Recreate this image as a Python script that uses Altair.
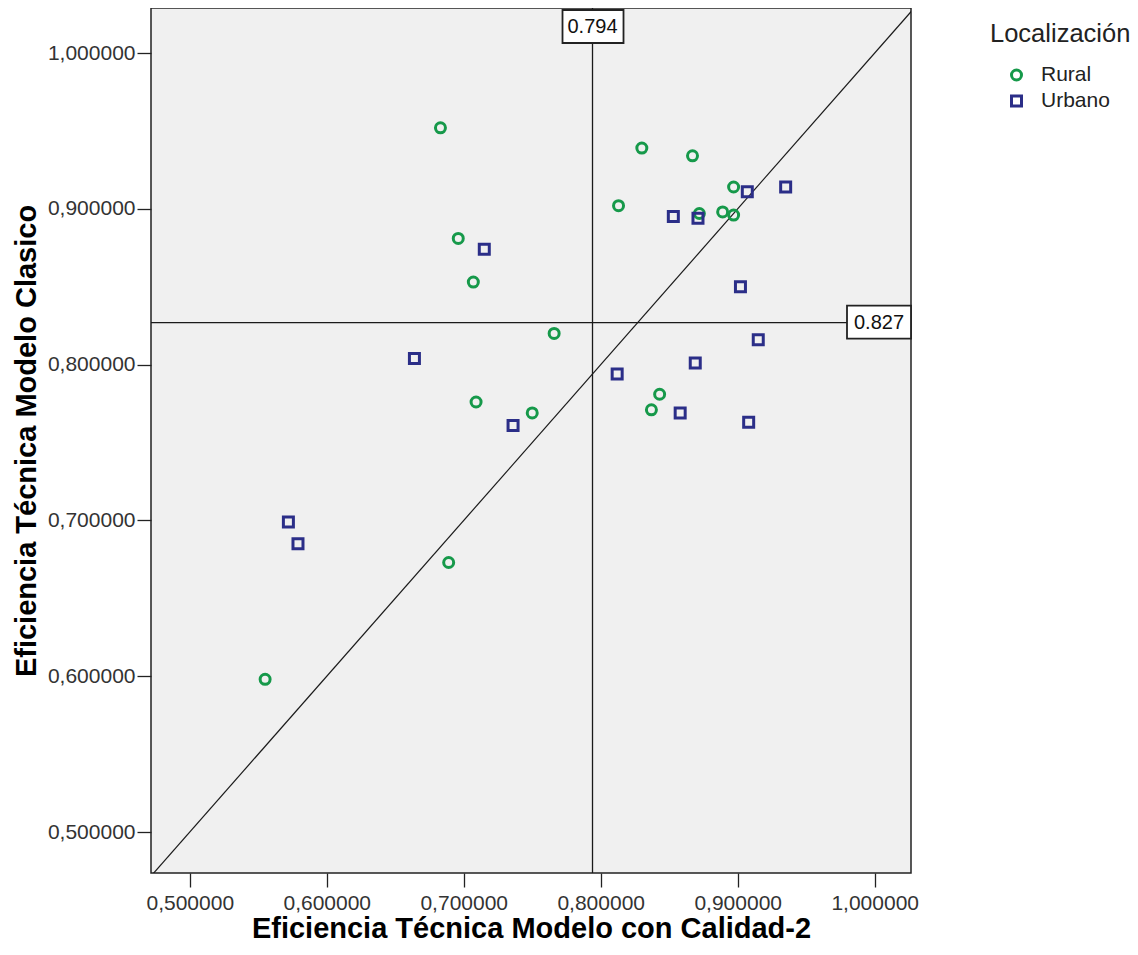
import altair as alt
import pandas as pd

rural_x = [0.683, 0.830, 0.867, 0.897, 0.813, 0.872, 0.889, 0.897, 0.696, 0.707,
           0.766, 0.843, 0.837, 0.709, 0.750, 0.689, 0.555]
rural_y = [0.952, 0.939, 0.934, 0.914, 0.902, 0.897, 0.898, 0.896, 0.881, 0.853,
           0.820, 0.781, 0.771, 0.776, 0.769, 0.673, 0.598]
urban_x = [0.907, 0.935, 0.853, 0.871, 0.715, 0.902, 0.915, 0.869, 0.812, 0.664,
           0.858, 0.908, 0.736, 0.572, 0.579]
urban_y = [0.911, 0.914, 0.895, 0.894, 0.874, 0.850, 0.816, 0.801, 0.794, 0.804,
           0.769, 0.763, 0.761, 0.699, 0.685]

x_ref = 0.794
y_ref = 0.827
x_dom = [0.4717, 1.0265]
y_dom = [0.4737, 1.0289]
ticks = [0.5, 0.6, 0.7, 0.8, 0.9, 1.0]

pts = pd.DataFrame({
    "x": rural_x + urban_x,
    "y": rural_y + urban_y,
    "Localización": ["Rural"] * len(rural_x) + ["Urbano"] * len(urban_x),
})

font = "Liberation Sans"
xs = alt.Scale(domain=x_dom, nice=False, zero=False)
ys = alt.Scale(domain=y_dom, nice=False, zero=False)

lbl = "replace(format(datum.value, '.6f'), '.', ',')"
xax = alt.Axis(values=ticks, grid=False, title="Eficiencia Técnica Modelo con Calidad-2", labelExpr=lbl)
yax = alt.Axis(values=ticks, grid=False, title="Eficiencia Técnica Modelo Clasico", labelExpr=lbl)

points = alt.Chart(pts).mark_point(filled=False, strokeWidth=3, size=100, opacity=1).encode(
    x=alt.X("x:Q", scale=xs, axis=xax),
    y=alt.Y("y:Q", scale=ys, axis=yax),
    color=alt.Color("Localización:N",
                    scale=alt.Scale(domain=["Rural", "Urbano"], range=["#16994a", "#2b2e88"]),
                    legend=alt.Legend(title="Localización", orient="none", legendX=839, legendY=14)),
    shape=alt.Shape("Localización:N",
                    scale=alt.Scale(domain=["Rural", "Urbano"], range=["circle", "square"])),
)

diag_df = pd.DataFrame({"x": [x_dom[0], 1.05], "y": [x_dom[0], 1.05]})
diag = alt.Chart(diag_df).mark_line(color="#1a1a1a", strokeWidth=1.2, clip=True).encode(
    x=alt.X("x:Q", scale=xs), y=alt.Y("y:Q", scale=ys))

vrule = alt.Chart(pd.DataFrame({"v": [x_ref]})).mark_rule(color="#1a1a1a", strokeWidth=1.3).encode(
    x=alt.X("v:Q", scale=xs))
hrule = alt.Chart(pd.DataFrame({"v": [y_ref]})).mark_rule(color="#1a1a1a", strokeWidth=1.3).encode(
    y=alt.Y("v:Q", scale=ys))

vbox = alt.Chart(pd.DataFrame({"v": [x_ref]})).mark_rect(
    fill="white", stroke="#222222", strokeWidth=1.8, xOffset=-30, x2Offset=31, yOffset=2, y2Offset=35
).encode(x=alt.X("v:Q", scale=xs), x2="v:Q", y=alt.datum(y_dom[1], scale=ys), y2=alt.datum(y_dom[1]))
vtext = alt.Chart(pd.DataFrame({"v": [x_ref], "t": ["0.794"]})).mark_text(
    font=font, fontSize=20, color="#111111", yOffset=19, baseline="middle"
).encode(x=alt.X("v:Q", scale=xs), y=alt.datum(y_dom[1], scale=ys), text="t:N")

hbox = alt.Chart(pd.DataFrame({"v": [y_ref]})).mark_rect(
    fill="white", stroke="#222222", strokeWidth=1.8, xOffset=-64, x2Offset=0, yOffset=-17, y2Offset=16
).encode(x=alt.datum(x_dom[1], scale=xs), x2=alt.datum(x_dom[1]), y=alt.Y("v:Q", scale=ys), y2="v:Q")
htext = alt.Chart(pd.DataFrame({"v": [y_ref], "t": ["0.827"]})).mark_text(
    font=font, fontSize=20, color="#111111", xOffset=-32, baseline="middle"
).encode(x=alt.datum(x_dom[1], scale=xs), y=alt.Y("v:Q", scale=ys), text="t:N")

chart = alt.layer(diag, vrule, hrule, points, vbox, vtext, hbox, htext).properties(
    width=760, height=865,
    autosize=alt.AutoSizeParams(type="none"),
    padding={"left": 143, "top": 0, "right": 219, "bottom": 73},
).configure_view(
    fill="#f0f0f0", stroke="#222222", strokeWidth=1.5
).configure_axis(
    labelFont=font, labelFontSize=21, labelColor="#333333",
    titleFont=font, titleFontSize=29, titleFontWeight="bold", titleColor="#000000",
    domain=False, tickColor="#222222", tickSize=14, tickWidth=1.3,
).configure_axisX(titlePadding=1, labelPadding=5).configure_axisY(titlePadding=6, labelPadding=2).configure_legend(
    titleFont=font, titleFontSize=25.5, titleFontWeight="normal", titleColor="#222222",
    labelFont=font, labelFontSize=21, labelColor="#222222",
    symbolOffset=16, symbolSize=100, symbolStrokeWidth=3, rowPadding=3, labelOffset=14,
    titlePadding=17, padding=0,
)

chart.save("out.html", embed_options={"renderer": "svg", "actions": False})
